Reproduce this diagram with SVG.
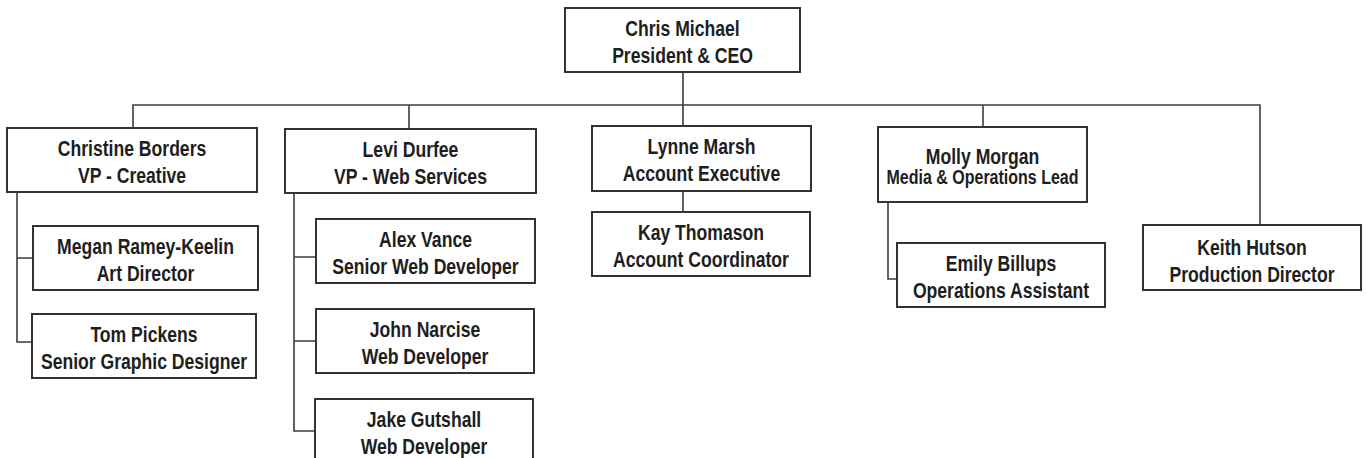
<svg xmlns="http://www.w3.org/2000/svg" width="1366" height="458" viewBox="0 0 1366 458">
<style>
  .box { fill: #ffffff; stroke: #333333; stroke-width: 2; }
  .conn { fill: none; stroke: #3c3c3c; stroke-width: 1.6; }
  .t { font-family: "Liberation Sans", Arial, sans-serif; font-weight: bold; font-size: 22px; fill: #1e1e1e; text-anchor: middle; }
  .ts { font-size: 20px; }
</style>
<rect width="1366" height="458" fill="#ffffff"/>
<g id="connectors">
  <path class="conn" d="M683,72 V105"/>
  <path class="conn" d="M133,128 V105 H1260 V225"/>
  <path class="conn" d="M409,105 V129"/>
  <path class="conn" d="M683,105 V126"/>
  <path class="conn" d="M983,105 V127"/>
  <path class="conn" d="M17,192 V342 H32 M17,258 H33"/>
  <path class="conn" d="M294,193 V431 H315 M294,257 H316 M294,341 H316"/>
  <path class="conn" d="M683,191 V212"/>
  <path class="conn" d="M888,202 V279 H897"/>
</g>
<g id="ceo">
  <rect class="box" x="565" y="8" width="235" height="64"/>
  <g transform="translate(682.5,0) scale(0.8,1)"><text class="t" x="0" y="36">Chris Michael</text><text class="t" x="0" y="63">President &amp; CEO</text></g>
</g>
<g id="christine">
  <rect class="box" x="7" y="128" width="250" height="64"/>
  <g transform="translate(132,0) scale(0.8,1)"><text class="t" x="0" y="156">Christine Borders</text><text class="t" x="0" y="183">VP - Creative</text></g>
</g>
<g id="megan">
  <rect class="box" x="33" y="226" width="225" height="64"/>
  <g transform="translate(145.5,0) scale(0.8,1)"><text class="t" x="0" y="254">Megan Ramey-Keelin</text><text class="t" x="0" y="281">Art Director</text></g>
</g>
<g id="tom">
  <rect class="box" x="32" y="314" width="224" height="64"/>
  <g transform="translate(144,0) scale(0.8,1)"><text class="t" x="0" y="342">Tom Pickens</text><text class="t" x="0" y="369">Senior Graphic Designer</text></g>
</g>
<g id="levi">
  <rect class="box" x="285" y="129" width="251" height="64"/>
  <g transform="translate(410.5,0) scale(0.8,1)"><text class="t" x="0" y="157">Levi Durfee</text><text class="t" x="0" y="184">VP - Web Services</text></g>
</g>
<g id="alex">
  <rect class="box" x="316" y="219" width="219" height="64"/>
  <g transform="translate(425.5,0) scale(0.8,1)"><text class="t" x="0" y="247">Alex Vance</text><text class="t" x="0" y="274">Senior Web Developer</text></g>
</g>
<g id="john">
  <rect class="box" x="316" y="309" width="218" height="64"/>
  <g transform="translate(425,0) scale(0.8,1)"><text class="t" x="0" y="337">John Narcise</text><text class="t" x="0" y="364">Web Developer</text></g>
</g>
<g id="jake">
  <rect class="box" x="315" y="399" width="218" height="64"/>
  <g transform="translate(424,0) scale(0.8,1)"><text class="t" x="0" y="427">Jake Gutshall</text><text class="t" x="0" y="454">Web Developer</text></g>
</g>
<g id="lynne">
  <rect class="box" x="592" y="126" width="219" height="65"/>
  <g transform="translate(701.5,0) scale(0.8,1)"><text class="t" x="0" y="154">Lynne Marsh</text><text class="t" x="0" y="181">Account Executive</text></g>
</g>
<g id="kay">
  <rect class="box" x="592" y="212" width="218" height="64"/>
  <g transform="translate(701,0) scale(0.8,1)"><text class="t" x="0" y="240">Kay Thomason</text><text class="t" x="0" y="267">Account Coordinator</text></g>
</g>
<g id="molly">
  <rect class="box" x="878" y="127" width="209" height="75"/>
  <g transform="translate(982.5,0) scale(0.8,1)"><text class="t" x="0" y="164">Molly Morgan</text><text class="t ts" x="0" y="184">Media &amp; Operations Lead</text></g>
</g>
<g id="emily">
  <rect class="box" x="897" y="243" width="208" height="64"/>
  <g transform="translate(1001,0) scale(0.8,1)"><text class="t" x="0" y="271">Emily Billups</text><text class="t" x="0" y="298">Operations Assistant</text></g>
</g>
<g id="keith">
  <rect class="box" x="1143" y="225" width="218" height="65"/>
  <g transform="translate(1252,0) scale(0.8,1)"><text class="t" x="0" y="255">Keith Hutson</text><text class="t" x="0" y="282">Production Director</text></g>
</g>
</svg>
